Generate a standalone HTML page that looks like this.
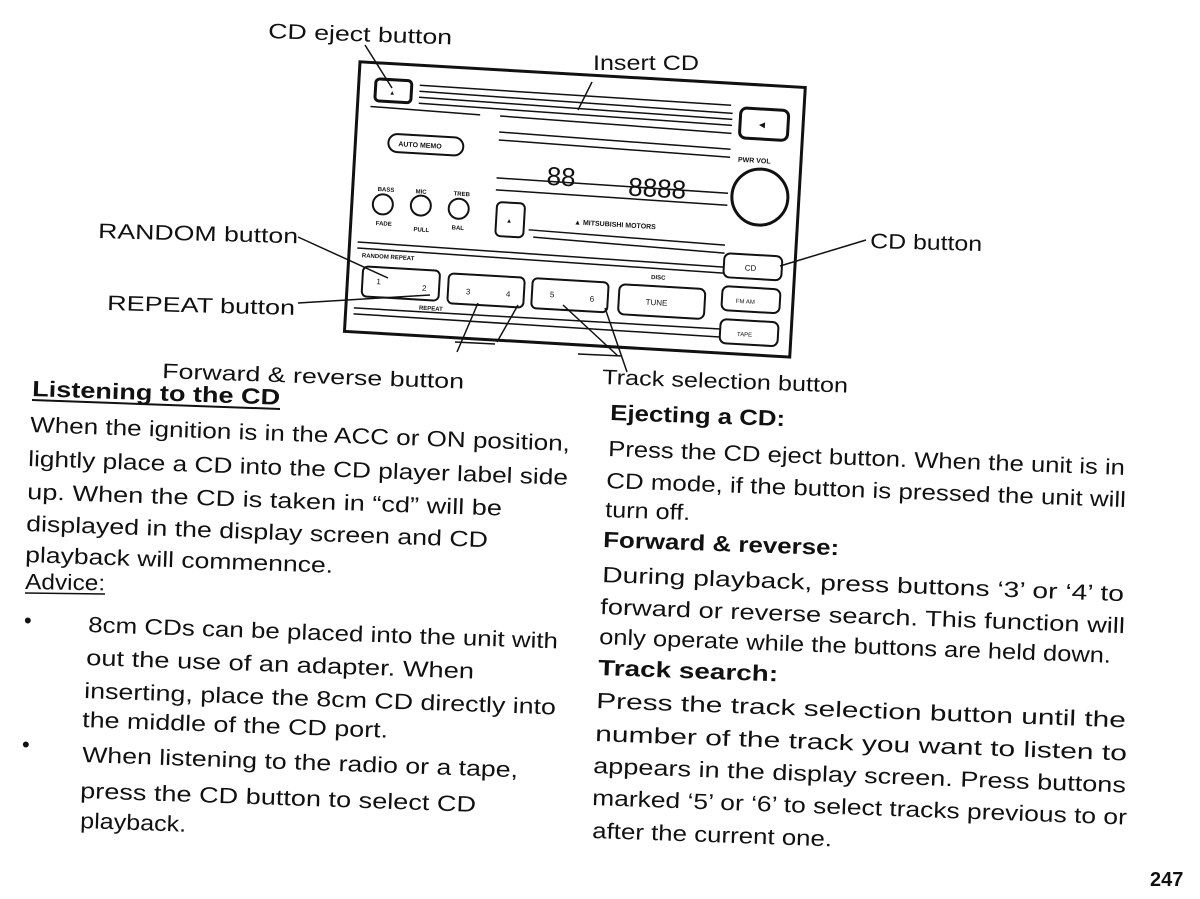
<!DOCTYPE html>
<html><head><meta charset="utf-8"><style>
html,body{margin:0;padding:0;background:#fff;}
svg{display:block;}
text{font-family:"Liberation Sans",Arial,sans-serif;fill:#111;}
.b{font-size:22px;}
.h{font-size:22px;font-weight:bold;}
.l{font-size:21px;}
.s{font-size:6px;font-weight:bold;}
</style></head><body>
<svg width="1200" height="899" viewBox="0 0 1200 899" xmlns="http://www.w3.org/2000/svg">
<rect width="1200" height="899" fill="#fff"/>

<!-- device -->
<g transform="translate(363,62) rotate(3.3)" stroke="#111" fill="none" stroke-width="2">
  <rect x="-3" y="0" width="446" height="270" stroke-width="3"/>
  <rect x="14" y="16" width="36" height="22" rx="4" stroke-width="3"/>
  <text x="28" y="31" class="s" stroke="none">▲</text>
  <g stroke-width="1.5">
    <line x1="58" y1="20" x2="370" y2="22"/><line x1="58" y1="26" x2="372" y2="30"/>
    <line x1="58" y1="32" x2="372" y2="36"/><line x1="58" y1="38" x2="372" y2="42"/>
    <line x1="10" y1="44" x2="120" y2="46"/><line x1="140" y1="46" x2="372" y2="50"/>
    <line x1="140" y1="62" x2="372" y2="66"/><line x1="140" y1="70" x2="372" y2="74"/>
    <line x1="140" y1="108" x2="372" y2="110"/><line x1="140" y1="120" x2="372" y2="122"/>
    <line x1="175" y1="158" x2="372" y2="162"/><line x1="180" y1="165" x2="372" y2="170"/>
    <line x1="5" y1="180" x2="372" y2="184"/><line x1="5" y1="186" x2="372" y2="190"/>
    <line x1="5" y1="246" x2="372" y2="246"/><line x1="5" y1="252" x2="372" y2="254"/>
  </g>
  <rect x="380" y="24" width="48" height="30" rx="6" stroke-width="3"/>
  <text x="397" y="43" font-size="10" stroke="none">◄</text>
  <rect x="30" y="70" width="75" height="18" rx="9"/>
  <text x="40" y="82" font-size="7" font-weight="bold" stroke="none">AUTO MEMO</text>
  <text x="22" y="128" class="s" stroke="none">BASS</text>
  <text x="60" y="128" class="s" stroke="none">MIC</text>
  <text x="98" y="128" class="s" stroke="none">TREB</text>
  <circle cx="28" cy="141" r="10"/><circle cx="66" cy="140" r="10"/><circle cx="104" cy="141" r="10"/>
  <text x="22" y="162" class="s" stroke="none">FADE</text>
  <text x="60" y="166" class="s" stroke="none">PULL</text>
  <text x="98" y="162" class="s" stroke="none">BAL</text>
  <rect x="142" y="132" width="28" height="34" rx="5"/>
  <text x="152" y="152" class="s" stroke="none">▲</text>
  <text x="190" y="112" font-size="26" stroke="none" font-family="Liberation Mono">88</text>
  <text x="272" y="118" font-size="26" stroke="none" font-family="Liberation Mono">8888</text>
  <text x="220" y="150" font-size="7" font-weight="bold" stroke="none">▲ MITSUBISHI MOTORS</text>
  <text x="380" y="78" font-size="7" font-weight="bold" stroke="none">PWR VOL</text>
  <circle cx="404" cy="112" r="28" stroke-width="3"/>
  <text x="10" y="195" class="s" font-size="7" stroke="none">RANDOM REPEAT</text>
  <rect x="12" y="204" width="77" height="30" rx="5"/>
  <text x="26" y="221" font-size="8" stroke="none">1</text><text x="72" y="225" font-size="8" stroke="none">2</text>
  <rect x="98" y="206" width="76" height="30" rx="5"/>
  <text x="116" y="226" font-size="8" stroke="none">3</text><text x="156" y="226" font-size="8" stroke="none">4</text>
  <rect x="182" y="206" width="76" height="30" rx="5"/>
  <text x="200" y="224" font-size="8" stroke="none">5</text><text x="240" y="226" font-size="8" stroke="none">6</text>
  <rect x="269" y="207" width="86" height="30" rx="6"/>
  <text x="296" y="226" font-size="8" stroke="none">TUNE</text>
  <text x="70" y="244" class="s" stroke="none">REPEAT</text>
  <text x="300" y="200" class="s" stroke="none">DISC</text>
  <rect x="372" y="170" width="58" height="24" rx="6"/>
  <text x="393" y="186" font-size="8" stroke="none">CD</text>
  <rect x="372" y="203" width="58" height="24" rx="6"/>
  <text x="386" y="219" font-size="6" stroke="none">FM AM</text>
  <rect x="372" y="236" width="58" height="24" rx="6"/>
  <text x="389" y="252" font-size="6" stroke="none">TAPE</text>
</g>

<!-- leaders -->
<g stroke="#111" stroke-width="1.5" fill="none">
  <line x1="365" y1="45" x2="392" y2="88"/>
  <line x1="592" y1="82" x2="578" y2="110"/>
  <line x1="298" y1="237" x2="388" y2="278"/>
  <line x1="298" y1="303" x2="430" y2="295"/>
  <line x1="866" y1="240" x2="780" y2="266"/>
  <line x1="457" y1="352" x2="478" y2="303"/>
  <line x1="497" y1="342" x2="518" y2="305"/>
  <line x1="455" y1="342" x2="495" y2="344"/>
  <line x1="627" y1="372" x2="605" y2="308"/>
  <line x1="618" y1="356" x2="563" y2="305"/>
  <line x1="578" y1="354" x2="622" y2="356"/>
</g>

<!-- labels -->
<text x="268" y="38" class="l" textLength="184" lengthAdjust="spacingAndGlyphs" transform="rotate(2 268 38)">CD eject button</text>
<text x="593" y="70" class="l" textLength="106" lengthAdjust="spacingAndGlyphs">Insert CD</text>
<text x="98" y="238" class="l" textLength="200" lengthAdjust="spacingAndGlyphs" transform="rotate(1.5 98 238)">RANDOM button</text>
<text x="870" y="248" class="l" textLength="112" lengthAdjust="spacingAndGlyphs" transform="rotate(1.5 870 248)">CD button</text>
<text x="107" y="310" class="l" textLength="188" lengthAdjust="spacingAndGlyphs" transform="rotate(1.5 107 310)">REPEAT button</text>
<text x="162" y="378" class="l" textLength="302" lengthAdjust="spacingAndGlyphs" transform="rotate(2 162 378)">Forward &amp; reverse button</text>
<text x="602" y="384" class="l" textLength="246" lengthAdjust="spacingAndGlyphs" transform="rotate(2 602 384)">Track selection button</text>

<!-- left column -->
<text x="32" y="396" class="h" textLength="248" lengthAdjust="spacingAndGlyphs" transform="rotate(2 32 396)">Listening to the CD</text>
<line x1="32" y1="400" x2="280" y2="409" stroke="#111" stroke-width="2"/>
<text x="30" y="432" class="b" textLength="540" lengthAdjust="spacingAndGlyphs" transform="rotate(2 30 432)">When the ignition is in the ACC or ON position,</text>
<text x="28" y="466" class="b" textLength="540" lengthAdjust="spacingAndGlyphs" transform="rotate(2 28 466)">lightly place a CD into the CD player label side</text>
<text x="27" y="499" class="b" textLength="475" lengthAdjust="spacingAndGlyphs" transform="rotate(2 27 499)">up.  When the CD is taken in “cd” will be</text>
<text x="26" y="531" class="b" textLength="462" lengthAdjust="spacingAndGlyphs" transform="rotate(2 26 531)">displayed in the display screen and CD</text>
<text x="25" y="562" class="b" textLength="308" lengthAdjust="spacingAndGlyphs" transform="rotate(2 25 562)">playback will commennce.</text>
<text x="25" y="589" class="b" textLength="80" lengthAdjust="spacingAndGlyphs" transform="rotate(1 25 589)">Advice:</text>
<line x1="25" y1="593" x2="105" y2="594" stroke="#111" stroke-width="1.5"/>
<text x="24" y="628" class="b">•</text>
<text x="88" y="632" class="b" textLength="470" lengthAdjust="spacingAndGlyphs" transform="rotate(2 88 632)">8cm CDs can be placed into the unit with</text>
<text x="86" y="665" class="b" textLength="388" lengthAdjust="spacingAndGlyphs" transform="rotate(2 86 665)">out the use of an adapter.  When</text>
<text x="84" y="698" class="b" textLength="472" lengthAdjust="spacingAndGlyphs" transform="rotate(2 84 698)">inserting, place the 8cm CD directly into</text>
<text x="82" y="727" class="b" textLength="306" lengthAdjust="spacingAndGlyphs" transform="rotate(2 82 727)">the middle of the CD port.</text>
<text x="22" y="752" class="b">•</text>
<text x="82" y="762" class="b" textLength="436" lengthAdjust="spacingAndGlyphs" transform="rotate(2 82 762)">When listening to the radio or a tape,</text>
<text x="80" y="798" class="b" textLength="396" lengthAdjust="spacingAndGlyphs" transform="rotate(2 80 798)">press the CD button to select CD</text>
<text x="80" y="828" class="b" textLength="106" lengthAdjust="spacingAndGlyphs" transform="rotate(2 80 828)">playback.</text>

<!-- right column -->
<text x="610" y="420" class="h" textLength="175" lengthAdjust="spacingAndGlyphs" transform="rotate(2 610 420)">Ejecting a CD:</text>
<text x="608" y="456" class="b" textLength="517" lengthAdjust="spacingAndGlyphs" transform="rotate(2.1 608 456)">Press the CD eject button.  When the unit is in</text>
<text x="606" y="488" class="b" textLength="520" lengthAdjust="spacingAndGlyphs" transform="rotate(2.1 606 488)">CD mode, if the button is pressed the unit will</text>
<text x="605" y="517" class="b" textLength="85" lengthAdjust="spacingAndGlyphs" transform="rotate(2 605 517)">turn off.</text>
<text x="603" y="547" class="h" textLength="236" lengthAdjust="spacingAndGlyphs" transform="rotate(2 603 547)">Forward &amp; reverse:</text>
<text x="602" y="582" class="b" textLength="522" lengthAdjust="spacingAndGlyphs" transform="rotate(2.1 602 582)">During playback, press buttons ‘3’ or ‘4’ to</text>
<text x="600" y="614" class="b" textLength="525" lengthAdjust="spacingAndGlyphs" transform="rotate(2.1 600 614)">forward or reverse search.  This function will</text>
<text x="599" y="644" class="b" textLength="512" lengthAdjust="spacingAndGlyphs" transform="rotate(2.1 599 644)">only operate while the buttons are held down.</text>
<text x="598" y="675" class="h" textLength="180" lengthAdjust="spacingAndGlyphs" transform="rotate(2 598 675)">Track search:</text>
<text x="596" y="708" class="b" textLength="530" lengthAdjust="spacingAndGlyphs" transform="rotate(2.1 596 708)">Press the track selection button until the</text>
<text x="595" y="741" class="b" textLength="532" lengthAdjust="spacingAndGlyphs" transform="rotate(2.1 595 741)">number of the track you want to listen to</text>
<text x="593" y="773" class="b" textLength="533" lengthAdjust="spacingAndGlyphs" transform="rotate(2.1 593 773)">appears in the display screen.  Press buttons</text>
<text x="592" y="805" class="b" textLength="535" lengthAdjust="spacingAndGlyphs" transform="rotate(2.1 592 805)">marked ‘5’ or ‘6’ to select tracks previous to or</text>
<text x="592" y="838" class="b" textLength="240" lengthAdjust="spacingAndGlyphs" transform="rotate(2 592 838)">after the current one.</text>

<text x="1150" y="886" font-size="20" font-weight="bold" font-family="Liberation Sans, sans-serif">247</text>
</svg>
</body></html>
